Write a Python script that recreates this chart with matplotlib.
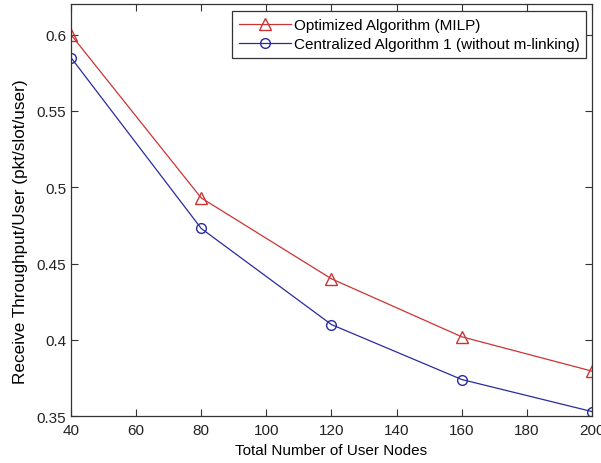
import matplotlib
matplotlib.use('Agg')
import matplotlib.pyplot as plt

plt.rcParams['font.family'] = ['Liberation Sans', 'DejaVu Sans']

nodes = [40, 80, 120, 160, 200]
milp = [0.600, 0.493, 0.440, 0.402, 0.3795]
central = [0.585, 0.473, 0.410, 0.374, 0.353]

fig = plt.figure(figsize=(6.01, 4.64), dpi=100)
ax = fig.add_axes([0.118, 0.101, 0.867, 0.888])

ax.plot(nodes, milp, color='#cc3333', lw=0.9, marker='^', ms=8,
        mfc='none', mec='#cc3333', mew=1.0, label='Optimized Algorithm (MILP)')
ax.plot(nodes, central, color='#2a2aa0', lw=0.9, marker='o', ms=7,
        mfc='none', mec='#2a2aa0', mew=1.0,
        label='Centralized Algorithm 1 (without m-linking)')

ax.set_xlim(40, 200)
ax.set_ylim(0.35, 0.62)
ax.set_xticks(range(40, 201, 20))
ax.set_yticks([0.35, 0.4, 0.45, 0.5, 0.55, 0.6])
ax.set_yticklabels(['0.35', '0.4', '0.45', '0.5', '0.55', '0.6'])
ax.tick_params(direction='in', top=True, right=True, length=5, width=0.8,
               labelsize=11, colors='#333333', labelcolor='#222222')
ax.tick_params(axis='x', pad=5)
for s in ax.spines.values():
    s.set_linewidth(0.9)
    s.set_color('#333333')

ax.set_xlabel('Total Number of User Nodes', fontsize=11, labelpad=4)
ax.set_ylabel('Receive Throughput/User (pkt/slot/user)', fontsize=12.3)
ax.yaxis.set_label_coords(-0.083, 0.45)

leg = ax.legend(loc='upper right', bbox_to_anchor=(0.989, 0.983), fontsize=11,
                fancybox=False, edgecolor='#333333', framealpha=1,
                handlelength=3.4, borderpad=0.45, labelspacing=0.35,
                handletextpad=0.2, borderaxespad=0.0)
leg.get_frame().set_linewidth(0.9)

fig.savefig('out.png', dpi=100)
